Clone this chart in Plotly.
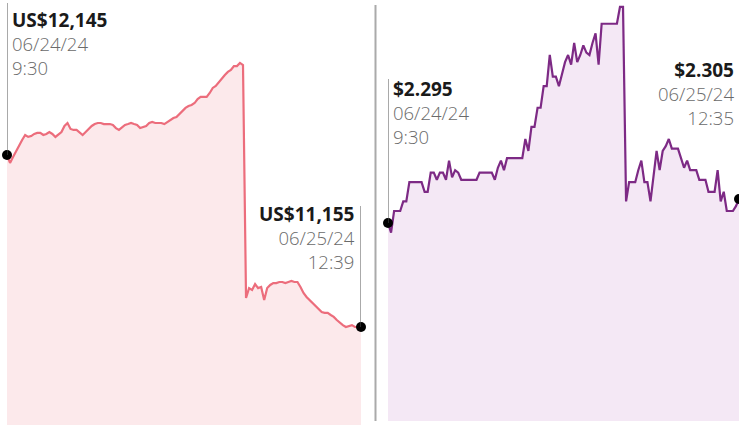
import pandas as pd
import plotly.graph_objects as go

# ---------------- data ----------------
left_prices = [
    12145, 12099, 12133, 12168, 12203, 12231, 12260, 12249, 12254, 12266,
    12272, 12272, 12260, 12266, 12277, 12266, 12249, 12266, 12277, 12312,
    12329, 12295, 12289, 12289, 12272, 12260, 12277, 12295, 12312, 12323,
    12329, 12329, 12323, 12323, 12323, 12318, 12300, 12289, 12306, 12318,
    12323, 12329, 12323, 12318, 12300, 12306, 12312, 12329, 12335, 12329,
    12329, 12329, 12323, 12335, 12346, 12358, 12364, 12381, 12398, 12416,
    12427, 12433, 12444, 12467, 12479, 12479, 12479, 12502, 12531, 12542,
    12565, 12588, 12605, 12623, 12634, 12657, 12657, 12675, 12663,
    11322, 11379, 11368, 11402, 11379, 11385, 11310, 11379, 11397, 11408,
    11408, 11414, 11414, 11408, 11414, 11420, 11414, 11414, 11385, 11351,
    11328, 11310, 11293, 11276, 11259, 11241, 11236, 11236, 11224, 11213,
    11195, 11178, 11166, 11155, 11161, 11166, 11155, 11155, 11155,
]

right_prices = [
    2.295, 2.291, 2.300, 2.300, 2.300, 2.304, 2.304, 2.312, 2.312, 2.312,
    2.312, 2.312, 2.308, 2.308, 2.316, 2.316, 2.313, 2.316, 2.316, 2.313,
    2.321, 2.314, 2.317, 2.316, 2.313, 2.313, 2.313, 2.313, 2.313, 2.313,
    2.316, 2.316, 2.316, 2.316, 2.316, 2.313, 2.318, 2.321, 2.317, 2.322,
    2.322, 2.322, 2.322, 2.322, 2.322, 2.330, 2.325, 2.335, 2.335, 2.343,
    2.343, 2.352, 2.352, 2.365, 2.356, 2.356, 2.352, 2.357, 2.362, 2.365,
    2.361, 2.370, 2.362, 2.365, 2.369, 2.366, 2.365, 2.370, 2.374, 2.361,
    2.378, 2.378, 2.378, 2.378, 2.378, 2.378, 2.385, 2.385,
    2.304, 2.312, 2.312, 2.312, 2.317, 2.321, 2.312, 2.312, 2.304, 2.315,
    2.325, 2.317, 2.325, 2.327, 2.330, 2.326, 2.326, 2.326, 2.322, 2.318,
    2.321, 2.317, 2.317, 2.317, 2.313, 2.313, 2.313, 2.308, 2.308, 2.308,
    2.317, 2.304, 2.308, 2.300, 2.300, 2.300, 2.302, 2.305,
]

left_start_label = ["US$12,145", "06/24/24", "9:30"]
left_end_label = ["US$11,155", "06/25/24", "12:39"]
right_start_label = ["$2.295", "06/24/24", "9:30"]
right_end_label = ["$2.305", "06/25/24", "12:35"]

# time categories (5-minute bars)
def session(day, start, end):
    return [t.strftime("%m/%d %H:%M") for t in pd.date_range(f"2024-{day} {start}", f"2024-{day} {end}", freq="5min")]

left_times = session("06-24", "09:30", "16:00") + session("06-25", "09:30", "12:35") + ["06/25 12:39"]
right_times = session("06-24", "09:30", "15:55") + session("06-25", "09:30", "12:35")

# ---------------- style ----------------
W, H = 739, 425
PINK = "#ec6d7c"
PINK_FILL = "#fce9eb"
PURPLE = "#7d2a85"
PURPLE_FILL = "#f4e8f5"
FONT = "Open Sans"

def fx(px):
    return px / W

def fy(py):
    return 1 - py / H

left_range = [10591, 13037]
right_range = [2.2125, 2.3879]

fig = go.Figure()

fig.add_trace(go.Scatter(x=left_times, y=left_prices, mode="lines",
                         line=dict(color=PINK, width=2.2), fill="tozeroy",
                         fillcolor=PINK_FILL, xaxis="x", yaxis="y",
                         hoverinfo="skip"))
fig.add_trace(go.Scatter(x=right_times, y=right_prices, mode="lines",
                         line=dict(color=PURPLE, width=2.2), fill="tozeroy",
                         fillcolor=PURPLE_FILL, xaxis="x2", yaxis="y2",
                         hoverinfo="skip"))

# end-point dots
fig.add_trace(go.Scatter(x=[left_times[0], left_times[-1]],
                         y=[left_prices[0], left_prices[-1]], mode="markers",
                         marker=dict(color="black", size=10), cliponaxis=False,
                         xaxis="x", yaxis="y", hoverinfo="skip"))
fig.add_trace(go.Scatter(x=[right_times[0], right_times[-1]],
                         y=[right_prices[0], right_prices[-1]], mode="markers",
                         marker=dict(color="black", size=10), cliponaxis=False,
                         xaxis="x2", yaxis="y2", hoverinfo="skip"))

ax_common = dict(visible=False, showgrid=False, zeroline=False, fixedrange=True)
fig.update_layout(
    width=W, height=H,
    margin=dict(l=0, r=0, t=0, b=0),
    paper_bgcolor="white", plot_bgcolor="rgba(0,0,0,0)",
    showlegend=False,
    xaxis=dict(domain=[fx(7), fx(361)], type="category",
               range=[0, len(left_times) - 1], **ax_common),
    yaxis=dict(domain=[0, 1], range=left_range, **ax_common),
    xaxis2=dict(domain=[fx(388), 1], type="category",
                range=[0, len(right_times) - 1], **ax_common),
    yaxis2=dict(domain=[fy(421), 1], range=right_range, anchor="x2", **ax_common),
)

# divider
fig.add_shape(type="line", xref="paper", yref="paper",
              x0=fx(375.5), x1=fx(375.5), y0=fy(421), y1=fy(5),
              line=dict(color="#aaaaaa", width=2))

# vertical leader lines
def vline(xref, yref, xv, y_from, y_to):
    fig.add_shape(type="line", xref=xref, yref=yref, x0=xv, x1=xv,
                  y0=y_from, y1=y_to, line=dict(color="#555555", width=1))

def frac_to_val(rng, py, top_px=0, bottom_px=H):
    f = (bottom_px - py) / (bottom_px - top_px)
    return rng[0] + (rng[1] - rng[0]) * f

vline("x", "y", 0, left_prices[0], frac_to_val(left_range, 3))
vline("x", "y", len(left_times) - 1, left_prices[-1], frac_to_val(left_range, 206))
vline("x2", "y2", 0, right_prices[0], frac_to_val(right_range, 79, 0, 421))

# labels (one multi-line annotation per label)
def label(lines, px, top, anchor):
    txt = (f"<span style='font-size:19px'><b>{lines[0]}</b></span><br>"
           f"<span style='color:#6a6a6a;font-weight:300'>{lines[1]}</span><br>"
           f"<span style='color:#6a6a6a;font-weight:300'>{lines[2]}</span>")
    fig.add_annotation(text=txt, xref="paper", yref="paper",
                       x=fx(px), y=fy(top), xanchor=anchor, yanchor="top",
                       align=anchor, showarrow=False, borderpad=0,
                       font=dict(family=FONT, size=18.5, color="#1a1a1a"))

label(left_start_label, 11, 6.5, "left")
label(left_end_label, 356, 200, "right")
label(right_start_label, 392, 75.5, "left")
label(right_end_label, 735, 55.5, "right")

fig.write_html("out.html", config={"displayModeBar": False},
               post_script="document.body.style.margin='0';")
